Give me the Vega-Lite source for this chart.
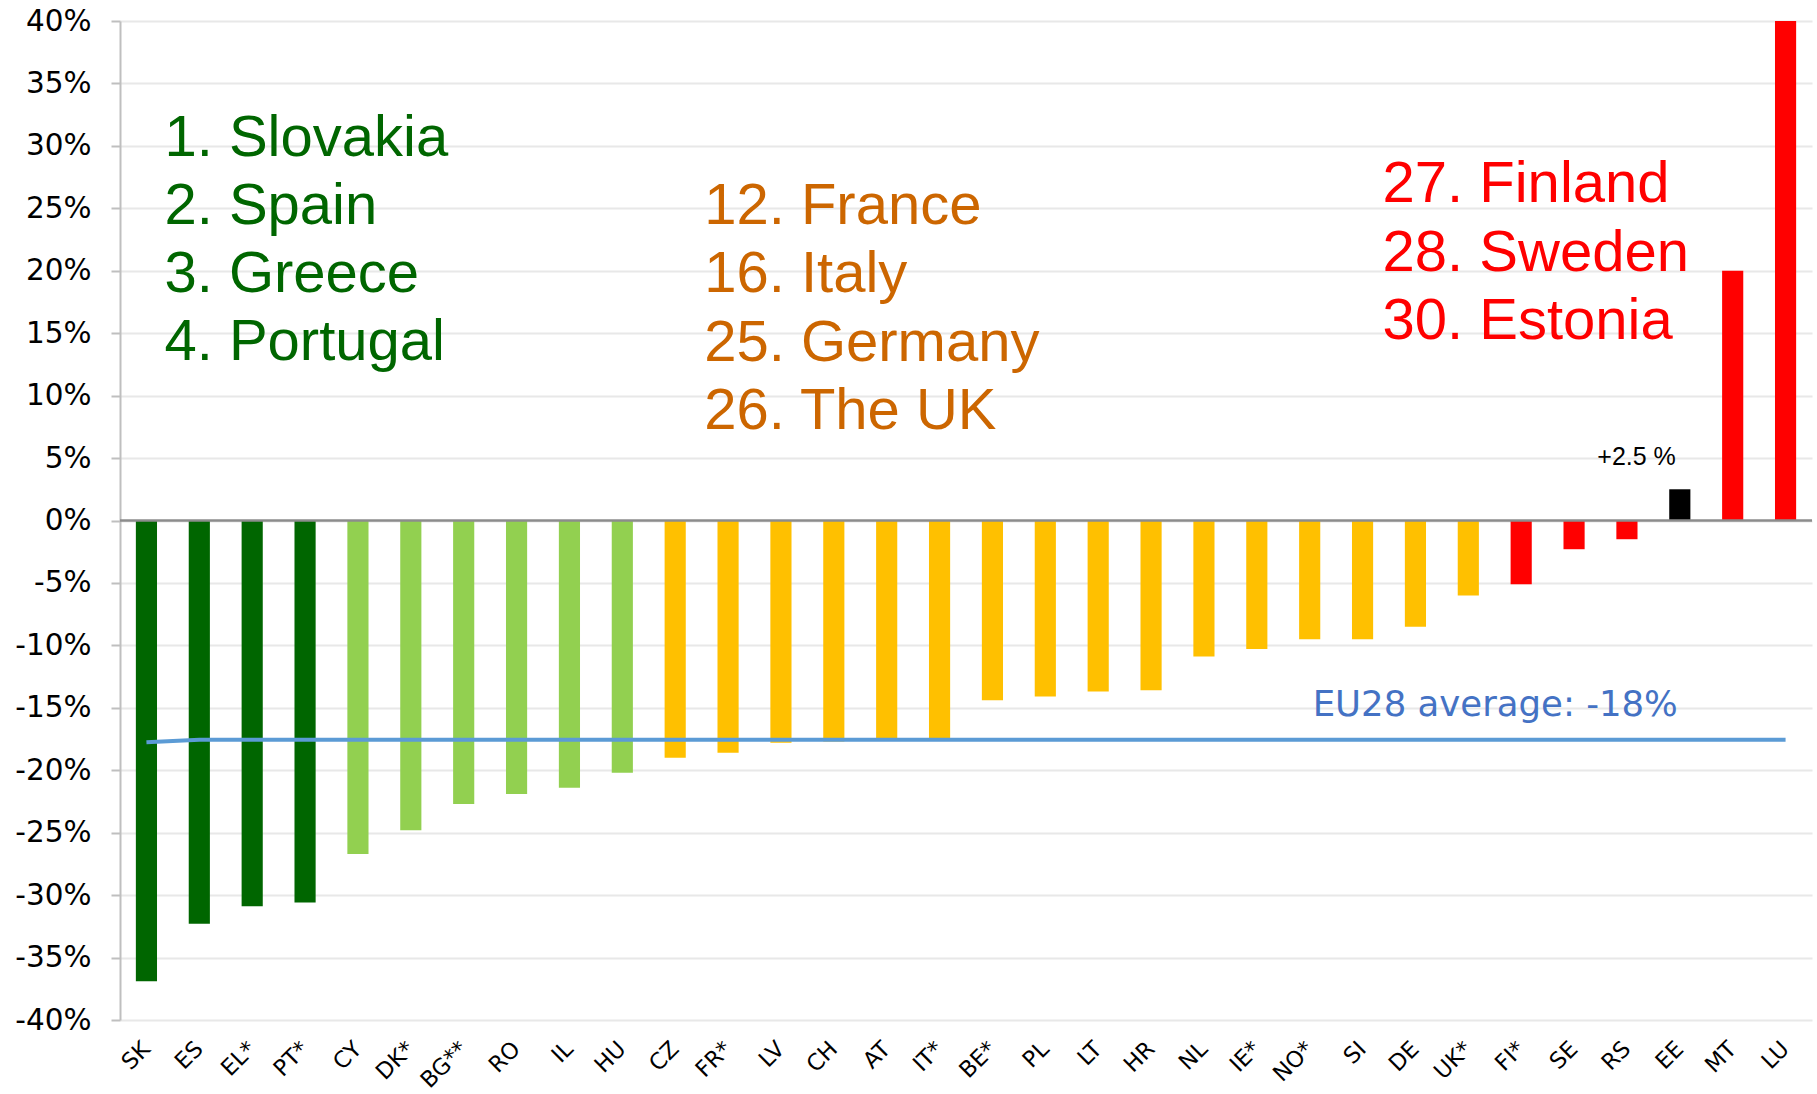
{
  "$schema": "https://vega.github.io/schema/vega-lite/v6.json",
  "width": 1692,
  "height": 999,
  "autosize": {"type": "none"},
  "padding": {"left": 120, "top": 21, "right": 5, "bottom": 74},
  "background": "white",
  "config": {"view": {"stroke": null}, "font": "DejaVu Sans"},
  "datasets": {
    "bars": [
      {"code": "SK", "value": -36.9, "group": "top"},
      {"code": "ES", "value": -32.3, "group": "top"},
      {"code": "EL*", "value": -30.9, "group": "top"},
      {"code": "PT*", "value": -30.6, "group": "top"},
      {"code": "CY", "value": -26.7, "group": "upper"},
      {"code": "DK*", "value": -24.8, "group": "upper"},
      {"code": "BG**", "value": -22.7, "group": "upper"},
      {"code": "RO", "value": -21.9, "group": "upper"},
      {"code": "IL", "value": -21.4, "group": "upper"},
      {"code": "HU", "value": -20.2, "group": "upper"},
      {"code": "CZ", "value": -19.0, "group": "middle"},
      {"code": "FR*", "value": -18.6, "group": "middle"},
      {"code": "LV", "value": -17.8, "group": "middle"},
      {"code": "CH", "value": -17.7, "group": "middle"},
      {"code": "AT", "value": -17.5, "group": "middle"},
      {"code": "IT*", "value": -17.5, "group": "middle"},
      {"code": "BE*", "value": -14.4, "group": "middle"},
      {"code": "PL", "value": -14.1, "group": "middle"},
      {"code": "LT", "value": -13.7, "group": "middle"},
      {"code": "HR", "value": -13.6, "group": "middle"},
      {"code": "NL", "value": -10.9, "group": "middle"},
      {"code": "IE*", "value": -10.3, "group": "middle"},
      {"code": "NO*", "value": -9.5, "group": "middle"},
      {"code": "SI", "value": -9.5, "group": "middle"},
      {"code": "DE", "value": -8.5, "group": "middle"},
      {"code": "UK*", "value": -6.0, "group": "middle"},
      {"code": "FI*", "value": -5.1, "group": "bottom"},
      {"code": "SE", "value": -2.3, "group": "bottom"},
      {"code": "RS", "value": -1.5, "group": "bottom"},
      {"code": "EE", "value": 2.5, "group": "estonia"},
      {"code": "MT", "value": 20.0, "group": "bottom"},
      {"code": "LU", "value": 40.0, "group": "bottom"}
    ],
    "avg": [
      {"code": "SK", "avg": -17.75},
      {"code": "ES", "avg": -17.55},
      {"code": "EL*", "avg": -17.55},
      {"code": "PT*", "avg": -17.55},
      {"code": "CY", "avg": -17.55},
      {"code": "DK*", "avg": -17.55},
      {"code": "BG**", "avg": -17.55},
      {"code": "RO", "avg": -17.55},
      {"code": "IL", "avg": -17.55},
      {"code": "HU", "avg": -17.55},
      {"code": "CZ", "avg": -17.55},
      {"code": "FR*", "avg": -17.55},
      {"code": "LV", "avg": -17.55},
      {"code": "CH", "avg": -17.55},
      {"code": "AT", "avg": -17.55},
      {"code": "IT*", "avg": -17.55},
      {"code": "BE*", "avg": -17.55},
      {"code": "PL", "avg": -17.55},
      {"code": "LT", "avg": -17.55},
      {"code": "HR", "avg": -17.55},
      {"code": "NL", "avg": -17.55},
      {"code": "IE*", "avg": -17.55},
      {"code": "NO*", "avg": -17.55},
      {"code": "SI", "avg": -17.55},
      {"code": "DE", "avg": -17.55},
      {"code": "UK*", "avg": -17.55},
      {"code": "FI*", "avg": -17.55},
      {"code": "SE", "avg": -17.55},
      {"code": "RS", "avg": -17.55},
      {"code": "EE", "avg": -17.55},
      {"code": "MT", "avg": -17.55},
      {"code": "LU", "avg": -17.55}
    ]
  },
  "layer": [
    {
      "data": {"name": "bars"},
      "mark": {"type": "bar", "clip": true},
      "encoding": {
        "x": {
          "field": "code",
          "type": "nominal",
          "sort": null,
          "scale": {"paddingInner": 0.6, "paddingOuter": 0.3},
          "axis": {
            "title": null,
            "labelAngle": -45,
            "labelAlign": "right",
            "labelBaseline": "middle",
            "labelFont": "DejaVu Sans",
            "labelFontSize": 22.5,
            "labelColor": "#000000",
            "labelPadding": 25,
            "domain": false,
            "ticks": false
          }
        },
        "y": {
          "field": "value",
          "type": "quantitative",
          "scale": {"domain": [-40, 40], "nice": false, "zero": false},
          "axis": {
            "title": null,
            "values": [-40, -35, -30, -25, -20, -15, -10, -5, 0, 5, 10, 15, 20, 25, 30, 35, 40],
            "labelExpr": "datum.value + '%'",
            "labelFont": "DejaVu Sans",
            "labelFontSize": 29.5,
            "labelColor": "#000000",
            "labelPadding": 20,
            "tickSize": 9,
            "tickWidth": 2,
            "tickColor": "#BFBFBF",
            "domainColor": "#BFBFBF",
            "domainWidth": 2,
            "gridColor": "#E8E8E8",
            "gridWidth": 2
          }
        },
        "color": {
          "field": "group",
          "type": "nominal",
          "scale": {
            "domain": ["top", "upper", "middle", "bottom", "estonia"],
            "range": ["#006600", "#92D050", "#FFC000", "#FF0000", "#000000"]
          },
          "legend": null
        }
      }
    },
    {
      "data": {"values": [{}]},
      "mark": {"type": "rule", "color": "#8C8C8C", "strokeWidth": 2.5},
      "encoding": {"y": {"datum": 0, "type": "quantitative"}}
    },
    {
      "data": {"name": "avg"},
      "mark": {"type": "line", "color": "#5B9BD5", "strokeWidth": 4},
      "encoding": {
        "x": {"field": "code", "type": "nominal", "sort": null},
        "y": {"field": "avg", "type": "quantitative"}
      }
    },
    {
      "data": {"values": [{}]},
      "mark": {"type": "text", "align": "left", "baseline": "alphabetic", "font": "Liberation Sans", "fontSize": 58, "lineHeight": 68, "color": "#006600", "dx": 18},
      "encoding": {
        "x": {"datum": "SK", "type": "nominal"},
        "y": {"datum": 29.2, "type": "quantitative"},
        "text": {"value": ["1. Slovakia", "2. Spain", "3. Greece", "4. Portugal"]}
      }
    },
    {
      "data": {"values": [{}]},
      "mark": {"type": "text", "align": "left", "baseline": "alphabetic", "font": "Liberation Sans", "fontSize": 58, "lineHeight": 68.5, "color": "#CC6600", "dx": 29},
      "encoding": {
        "x": {"datum": "CZ", "type": "nominal"},
        "y": {"datum": 23.75, "type": "quantitative"},
        "text": {"value": ["12. France", "16. Italy", "25. Germany", "26. The UK"]}
      }
    },
    {
      "data": {"values": [{}]},
      "mark": {"type": "text", "align": "left", "baseline": "alphabetic", "font": "Liberation Sans", "fontSize": 58, "lineHeight": 68.5, "color": "#FF0000", "dx": 20},
      "encoding": {
        "x": {"datum": "SI", "type": "nominal"},
        "y": {"datum": 25.5, "type": "quantitative"},
        "text": {"value": ["27. Finland", "28. Sweden", "30. Estonia"]}
      }
    },
    {
      "data": {"values": [{}]},
      "mark": {"type": "text", "align": "right", "baseline": "alphabetic", "font": "Liberation Sans", "fontSize": 25, "color": "#000000", "dx": -4},
      "encoding": {
        "x": {"datum": "EE", "type": "nominal"},
        "y": {"datum": 4.46, "type": "quantitative"},
        "text": {"value": "+2.5 %"}
      }
    },
    {
      "data": {"values": [{}]},
      "mark": {"type": "text", "align": "left", "baseline": "alphabetic", "font": "DejaVu Sans", "fontSize": 35.5, "color": "#4472C4", "dx": 3},
      "encoding": {
        "x": {"datum": "NO*", "type": "nominal"},
        "y": {"datum": -15.65, "type": "quantitative"},
        "text": {"value": "EU28 average: -18%"}
      }
    }
  ]
}
